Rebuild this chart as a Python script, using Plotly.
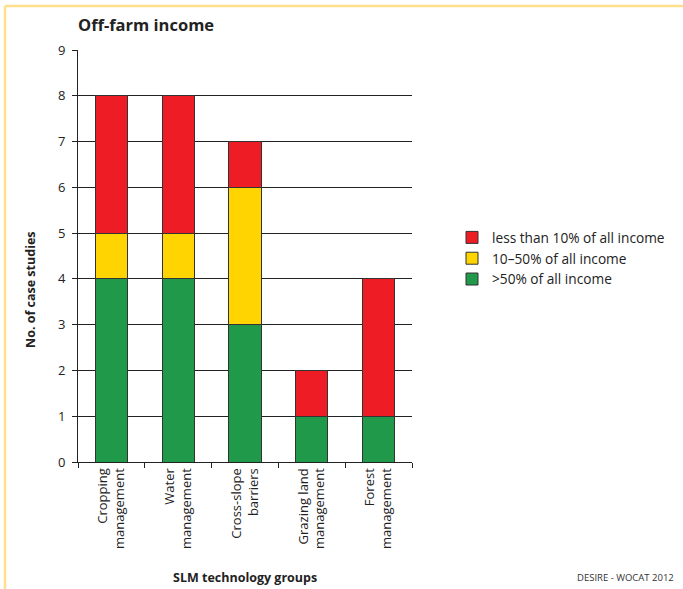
import plotly.graph_objects as go

categories = ["Cropping<br>management", "Water<br>management", "Cross-slope<br>barriers",
              "Grazing land<br>management", "Forest<br>management"]
over50 = [4, 4, 3, 1, 1]
mid10_50 = [1, 1, 3, None, None]
under10 = [3, 3, 1, 1, 3]
series_names = [">50% of all income", "10\u201350% of all income", "less than 10% of all income"]
colors = ["#21994A", "#FFD400", "#EE1C25"]

FONT = "Open Sans"
fig = go.Figure()
for vals, name, col in zip([over50, mid10_50, under10], series_names, colors):
    fig.add_trace(go.Bar(x=categories, y=vals, name=name,
                         marker=dict(color=col, line=dict(color="#333333", width=1))))

L, R, T, B = 78, 271, 50, 127
W, H = 683, 589
pw, ph = W - L - R, H - T - B
def px(x): return (x - L) / pw
def py(y): return (H - B - y) / ph

fig.update_layout(
    barmode="stack", bargap=0.52,
    width=W, height=H,
    margin=dict(l=L, r=R, t=T, b=B),
    plot_bgcolor="white", paper_bgcolor="white",
    font=dict(family=FONT, size=13, color="#222222"),
    showlegend=True,
    legend=dict(x=px(452), y=py(222), xanchor="left", yanchor="top",
                traceorder="reversed", font=dict(size=13.7, color="#222222"),
                itemwidth=30, tracegroupgap=0),
    xaxis=dict(type="category", tickson="boundaries", ticks="outside", ticklen=5,
               tickcolor="#222222", showline=True, linecolor="#222222", linewidth=1,
               tickangle=-90, showgrid=False, tickfont=dict(size=13), range=[-0.5, 4.5]),
    yaxis=dict(range=[0, 9], dtick=1, ticks="outside", ticklen=5, tickcolor="#222222",
               showline=True, linecolor="#222222", linewidth=1,
               showgrid=True, gridcolor="#222222", gridwidth=1, zeroline=False,
               tickfont=dict(size=13), ticklabelstandoff=4),
)

fig.add_annotation(text="<b>Off-farm income</b>", xref="paper", yref="paper",
                   x=px(76), y=py(24), xanchor="left", yanchor="middle",
                   showarrow=False, font=dict(size=16.5, color="#222222"))
fig.add_annotation(text="<b>No. of case studies</b>", xref="paper", yref="paper",
                   x=px(30), y=py(290), xanchor="center", yanchor="middle", textangle=-90,
                   showarrow=False, font=dict(size=12.5, color="#222222"))
fig.add_annotation(text="<b>SLM technology groups</b>", xref="paper", yref="paper",
                   x=px(245), y=py(577), xanchor="center", yanchor="middle",
                   showarrow=False, font=dict(size=12.5, color="#222222"))
fig.add_annotation(text="DESIRE - WOCAT 2012", xref="paper", yref="paper",
                   x=px(676), y=py(577), xanchor="right", yanchor="middle",
                   showarrow=False, font=dict(size=9.5, color="#333333"))

border = "#FDDF8C"
fig.add_shape(type="line", xref="paper", yref="paper", x0=px(5), x1=px(690), y0=py(6), y1=py(6),
              line=dict(color=border, width=2.5))
fig.add_shape(type="line", xref="paper", yref="paper", x0=px(5), x1=px(5), y0=py(6), y1=py(600),
              line=dict(color=border, width=2.5))

fig.write_html("out.html", config={"displayModeBar": False},
               post_script="document.body.style.margin='0';document.body.style.overflow='hidden';")
